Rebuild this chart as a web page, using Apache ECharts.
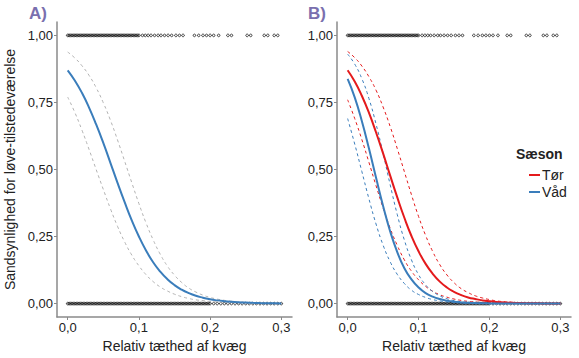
<!DOCTYPE html>
<html>
<head>
<meta charset="utf-8">
<script src="https://cdn.jsdelivr.net/npm/echarts@6/dist/echarts.min.js"></script>
<style>html,body{margin:0;padding:0;background:#fff}#c{width:579px;height:358px}</style>
</head>
<body>
<div id="c"></div>
<script>
// ---- data ----
const xGrid = [0,0.01,0.02,0.03,0.04,0.05,0.06,0.07,0.08,0.09,0.1,0.11,0.12,0.13,0.14,0.15,0.16,0.17,0.18,0.19,0.2,0.21,0.22,0.23,0.24,0.25,0.26,0.27,0.28,0.29,0.3];
// Panel A
const fitA = [0.870,0.832,0.786,0.731,0.668,0.599,0.525,0.450,0.378,0.310,0.250,0.198,0.154,0.119,0.091,0.069,0.052,0.039,0.029,0.022,0.016,0.012,0.009,0.0067,0.005,0.0037,0.0027,0.002,0.0015,0.0011,0.0008];
const hiA = [0.938,0.916,0.887,0.851,0.805,0.749,0.684,0.610,0.531,0.451,0.373,0.301,0.238,0.184,0.140,0.106,0.079,0.058,0.043,0.0315,0.023,0.0167,0.0122,0.0088,0.0064,0.0047,0.0034,0.0024,0.0018,0.0013,0.0009];
const loA = [0.770,0.713,0.647,0.575,0.500,0.426,0.354,0.288,0.230,0.181,0.141,0.108,0.082,0.062,0.047,0.035,0.026,0.019,0.014,0.011,0.008,0.006,0.0044,0.0032,0.0024,0.0018,0.0013,0.001,0.0007,0.0005,0.0004];
// Panel B
const fitTor = [0.870,0.828,0.775,0.712,0.639,0.560,0.477,0.396,0.320,0.252,0.195,0.148,0.111,0.082,0.060,0.044,0.032,0.023,0.017,0.012,0.0087,0.0062,0.0045,0.0032,0.0023,0.0017,0.0012,0.0009,0.0006,0.0004,0.0003];
const hiTor = [0.940,0.917,0.886,0.846,0.796,0.733,0.660,0.578,0.492,0.406,0.325,0.254,0.194,0.145,0.107,0.078,0.056,0.041,0.029,0.021,0.015,0.010,0.0074,0.0052,0.0037,0.0026,0.0018,0.0013,0.0009,0.0006,0.0005];
const loTor = [0.760,0.690,0.612,0.527,0.440,0.357,0.281,0.217,0.163,0.121,0.089,0.064,0.046,0.033,0.024,0.017,0.012,0.0084,0.006,0.0042,0.003,0.0021,0.0015,0.0011,0.0007,0.0005,0.0004,0.0003,0.0002,0.0001,0.0001];
const fitVad = [0.838,0.769,0.681,0.579,0.470,0.364,0.269,0.192,0.132,0.090,0.060,0.039,0.026,0.017,0.011,0.007,0.0045,0.0029,0.0019,0.0012,0.0008,0.0005,0.0003,0.0002,0.0001,0.0001,0,0,0,0,0];
const hiVad = [0.930,0.893,0.839,0.765,0.670,0.560,0.443,0.332,0.237,0.163,0.108,0.070,0.045,0.029,0.018,0.011,0.0072,0.0045,0.0028,0.0018,0.0011,0.0007,0.0004,0.0003,0.0002,0.0001,0.0001,0,0,0,0];
const loVad = [0.690,0.595,0.493,0.391,0.297,0.218,0.156,0.109,0.075,0.050,0.034,0.023,0.015,0.010,0.0066,0.0044,0.0029,0.0019,0.0013,0.0008,0.0006,0.0004,0.0002,0.0002,0.0001,0.0001,0,0,0,0,0];
// observations (presence = 1, absence = 0)
const presenceX = [0,0.002,0.004,0.006,0.008,0.01,0.012,0.014,0.016,0.018,0.02,0.022,0.024,0.026,0.028,0.03,0.032,0.034,0.036,0.038,0.04,0.042,0.044,0.046,0.048,0.05,0.052,0.054,0.056,0.058,0.06,0.062,0.064,0.066,0.068,0.07,0.072,0.074,0.076,0.078,0.08,0.082,0.084,0.086,0.088,0.09,0.092,0.094,0.096,0.098,0.1,
  0.105,0.109,0.113,0.117,0.122,0.127,0.131,0.136,0.141,0.146,0.152,0.157,0.162,0.178,0.184,0.19,0.195,0.2,0.205,0.212,0.225,0.23,0.252,0.257,0.276,0.281,0.29,0.295];
const absenceX = [0,0.002,0.004,0.006,0.008,0.01,0.012,0.014,0.016,0.018,0.02,0.022,0.024,0.026,0.028,0.03,0.032,0.034,0.036,0.038,0.04,0.042,0.044,0.046,0.048,0.05,0.052,0.054,0.056,0.058,0.06,0.062,0.064,0.066,0.068,0.07,0.072,0.074,0.076,0.078,0.08,0.082,0.084,0.086,0.088,0.09,0.092,0.094,0.096,0.098,0.1,
  0.102,0.104,0.106,0.108,0.11,0.112,0.114,0.116,0.118,0.12,0.122,0.124,0.126,0.128,0.13,0.132,0.134,0.136,0.138,0.14,0.142,0.144,0.146,0.148,0.15,0.152,0.154,0.156,0.158,0.16,0.162,0.164,0.166,0.168,0.17,0.172,0.174,0.176,0.178,0.18,0.182,0.184,0.186,0.188,0.19,0.192,0.194,0.196,0.198,0.2,
  0.205,0.21,0.215,0.22,0.225,0.23,0.235,0.24,0.245,0.25,0.255,0.26,0.265,0.27,0.275,0.28,0.285,0.29,0.295,0.3];
const xTickValues = [0,0.1,0.2,0.3];
const xTickLabels = ['0,0','0,1','0,2','0,3'];
const yTickValues = [0,0.25,0.5,0.75,1];
const yTickLabels = ['0,00','0,25','0,50','0,75','1,00'];
const seasonNames = ['Tør','Våd'];

// ---- chart ----
const RED = '#e41a1c', BLUE = '#3a7dbb', GRAY = '#b3b3b3', AXIS = '#8a8a8a', TXT = '#222';
const zip = ys => xGrid.map((x,i) => [x, ys[i]]);
const pts = (xs, y) => xs.map(x => [x, y]);
const FONT = "'Liberation Sans', Arial, sans-serif";

function xAxisDef(gi){
  return {
    type:'value', gridIndex:gi, min:-0.015, max:0.315,
    name:'Relativ tæthed af kvæg', nameLocation:'middle', nameGap:22,
    nameTextStyle:{fontSize:14,color:TXT,fontFamily:FONT},
    axisLine:{show:true,onZero:false,lineStyle:{color:AXIS,width:1.5}},
    axisTick:{show:true,length:3,customValues:xTickValues,lineStyle:{color:AXIS}},
    axisLabel:{show:true,customValues:xTickValues,margin:4,fontSize:13,color:TXT,fontFamily:FONT,
      formatter:v=>xTickLabels[xTickValues.indexOf(Math.round(v*10)/10)]},
    splitLine:{show:false}
  };
}
function yAxisDef(gi, withName){
  return {
    type:'value', gridIndex:gi, min:-0.05, max:1.05,
    name: withName ? 'Sandsynlighed for løve-tilstedeværelse' : '',
    nameLocation:'middle', nameGap:40,
    nameTextStyle:{fontSize:14,color:TXT,fontFamily:FONT},
    axisLine:{show:true,onZero:false,lineStyle:{color:AXIS,width:1.5}},
    axisTick:{show:true,length:3,customValues:yTickValues,lineStyle:{color:AXIS}},
    axisLabel:{show:true,customValues:yTickValues,margin:4,fontSize:13,color:TXT,fontFamily:FONT,
      formatter:v=>yTickLabels[yTickValues.indexOf(Math.round(v*100)/100)]},
    splitLine:{show:false}
  };
}
function pointSeries(gi, xs, y){
  return {type:'scatter', xAxisIndex:gi, yAxisIndex:gi, data:pts(xs,y), symbol:'circle', symbolSize:2.6,
    itemStyle:{color:'rgba(255,255,255,0)', borderColor:'#000', borderWidth:0.9}, silent:true, z:1};
}
function lineSeries(gi, name, ys, color, dashed){
  return {type:'line', name:name, xAxisIndex:gi, yAxisIndex:gi, data:zip(ys), showSymbol:false, smooth:true,
    lineStyle:{color:color, width: dashed?1:2, type: dashed?[3,3]:'solid'}, itemStyle:{color:color}, z: dashed?3:4, silent:true};
}

const chart = echarts.init(document.getElementById('c'), null, {renderer:'svg'});
chart.setOption({
  animation:false,
  backgroundColor:'#fff',
  grid:[
    {left:57, top:22, width:235, bottom:38},
    {left:337, top:22, width:234, bottom:38}
  ],
  xAxis:[xAxisDef(0), xAxisDef(1)],
  yAxis:[yAxisDef(0,true), yAxisDef(1,false)],
  legend:{
    data:seasonNames, orient:'vertical', left:524, top:163, itemWidth:11, itemHeight:2, itemGap:3,
    icon:'rect', textStyle:{fontSize:14,color:TXT,fontFamily:FONT,padding:[0,0,0,-3]}, selectedMode:false
  },
  graphic:[
    {type:'text', left:29, top:5, style:{text:'A)', fontSize:17, fontWeight:'bold', fill:'#7a6fae', fontFamily:FONT}},
    {type:'text', left:308, top:5, style:{text:'B)', fontSize:17, fontWeight:'bold', fill:'#7a6fae', fontFamily:FONT}},
    {type:'text', left:516, top:147, style:{text:'Sæson', fontSize:14, fontWeight:'bold', fill:TXT, fontFamily:FONT}}
  ],
  series:[
    pointSeries(0, presenceX, 1), pointSeries(0, absenceX, 0),
    lineSeries(0, 'ciHiA', hiA, GRAY, true), lineSeries(0, 'ciLoA', loA, GRAY, true),
    lineSeries(0, 'fitA', fitA, BLUE, false),
    pointSeries(1, presenceX, 1), pointSeries(1, absenceX, 0),
    lineSeries(1, 'hiTor', hiTor, RED, true), lineSeries(1, 'loTor', loTor, RED, true),
    lineSeries(1, 'hiVad', hiVad, BLUE, true), lineSeries(1, 'loVad', loVad, BLUE, true),
    lineSeries(1, seasonNames[0], fitTor, RED, false),
    lineSeries(1, seasonNames[1], fitVad, BLUE, false)
  ]
});
</script>
</body>
</html>
